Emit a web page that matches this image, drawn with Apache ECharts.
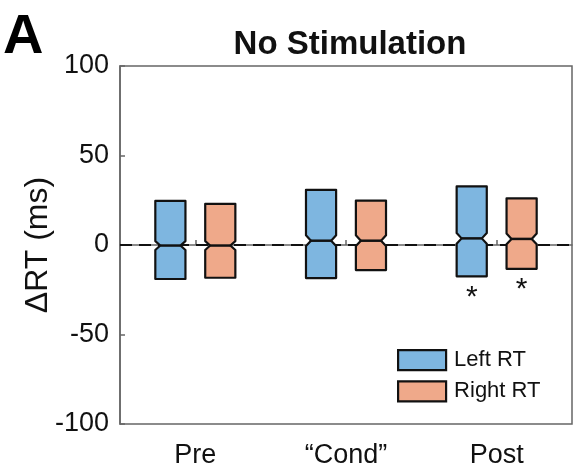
<!DOCTYPE html>
<html>
<head>
<meta charset="utf-8">
<script src="https://cdn.jsdelivr.net/npm/echarts@6/dist/echarts.min.js"></script>
<style>
  html, body { margin: 0; padding: 0; background: #fff; }
  #chart { width: 576px; height: 469px; }
</style>
</head>
<body>
<div id="chart"></div>
<script>
// Sessions on the x axis
const categories = ['Pre', '\u201CCond\u201D', 'Post'];
// Box statistics per session: [lower quartile, median, upper quartile]
const leftQ1 = [-19, -18.5, -17.5];
const leftMedian = [-0.3, 2.4, 3.7];
const leftQ3 = [24.6, 30.8, 32.7];
const rightQ1 = [-18.3, -14, -13.3];
const rightMedian = [-0.3, 2.4, 3.4];
const rightQ3 = [23, 24.8, 26.1];
// Notch half-height around each median (ms)
const leftNotch = [2.5, 3, 3];
const rightNotch = [2.5, 3, 3];
// Significance markers
const leftStar = [false, false, true];
const rightStar = [false, false, true];
const yTicks = [-100, -50, 0, 50, 100];
const zeroLine = 0;

const seriesNames = ['Left RT', 'Right RT'];
const colors = ['#7EB6E0', '#EFA98A'];

function boxData(q1, med, q3, notch, star) {
  return categories.map((c, i) => [i, q1[i], med[i], q3[i], notch[i], star[i] ? 1 : 0]);
}

function makeRender(offset, color) {
  return function (params, api) {
    const idx = api.value(0);
    const q1 = api.value(1), med = api.value(2), q3 = api.value(3), nh = api.value(4);
    const star = api.value(5);
    const band = api.size([1, 0])[0];
    const c = api.coord([idx, med]);
    const cx = c[0] + offset * band;
    const w = 0.1 * band;
    const d = 0.33 * w;
    const yTop = api.coord([idx, q3])[1];
    const yBot = api.coord([idx, q1])[1];
    const yMed = c[1];
    const yNt = api.coord([idx, med + nh])[1];
    const yNb = api.coord([idx, med - nh])[1];
    const pts = [
      [cx - w, yTop], [cx + w, yTop], [cx + w, yNt], [cx + w - d, yMed],
      [cx + w, yNb], [cx + w, yBot], [cx - w, yBot], [cx - w, yNb],
      [cx - w + d, yMed], [cx - w, yNt]
    ];
    const children = [
      { type: 'polygon', shape: { points: pts },
        style: { fill: color, stroke: '#111', lineWidth: 2.2, lineJoin: 'round' } },
      { type: 'line', shape: { x1: cx - w + d, y1: yMed, x2: cx + w - d, y2: yMed },
        style: { stroke: '#111', lineWidth: 2.5 } }
    ];
    if (star) {
      children.push({ type: 'text',
        style: { text: '*', x: cx, y: yBot + 6, textAlign: 'center', textVerticalAlign: 'top',
          font: '30px "Liberation Sans", Arial, sans-serif', fill: '#111' } });
    }
    return { type: 'group', children: children };
  };
}

const chart = echarts.init(document.getElementById('chart'), null, { renderer: 'canvas' });
const fontFam = '"Liberation Sans", Arial, sans-serif';

chart.setOption({
  animation: false,
  backgroundColor: '#fff',
  title: [
    { text: 'No Stimulation', left: 345, top: 23, textAlign: 'center',
      textStyle: { fontFamily: fontFam, fontSize: 33, fontWeight: 'bold', color: '#111' } },
    { text: 'A', left: -2, top: 5,
      textStyle: { fontFamily: fontFam, fontSize: 56, fontWeight: 'bold', color: '#000' } }
  ],
  grid: { left: 120, right: 4, top: 66, bottom: 45, show: true,
    borderColor: '#666', borderWidth: 1.5, backgroundColor: 'transparent' },
  legend: {
    orient: 'vertical', left: 392, top: 344, itemWidth: 48, itemHeight: 20, itemGap: 9,
    icon: 'rect',
    textStyle: { fontFamily: fontFam, fontSize: 22, color: '#111', padding: [0, 0, 0, 3] },
    data: seriesNames.map((n, i) => ({ name: n,
      itemStyle: { color: colors[i], borderColor: '#111', borderWidth: 2.2 } }))
  },
  xAxis: {
    type: 'category', data: categories, boundaryGap: true,
    axisLine: { show: true, lineStyle: { color: '#666', width: 1.5 } },
    axisTick: { show: true, inside: true, alignWithLabel: true, length: 5,
      lineStyle: { color: '#666', width: 1.5 } },
    axisLabel: { fontFamily: fontFam, fontSize: 27, color: '#111', margin: 18 },
    splitLine: { show: false }
  },
  yAxis: {
    type: 'value', min: -100, max: 100, interval: 50,
    name: '\u0394RT (ms)', nameLocation: 'middle', nameGap: 66, nameMoveOverlap: false,
    nameTextStyle: { fontFamily: fontFam, fontSize: 32, color: '#111' },
    axisLine: { show: true, lineStyle: { color: '#666', width: 1.5 } },
    axisTick: { show: true, inside: true, length: 5, lineStyle: { color: '#666', width: 1.5 } },
    axisLabel: { fontFamily: fontFam, fontSize: 27, color: '#111', margin: 11,
      formatter: v => yTicks.includes(v) ? String(v) : '' },
    splitLine: { show: false }
  },
  series: [
    {
      name: 'zero', type: 'line', data: [], z: 1,
      markLine: { silent: true, symbol: 'none', label: { show: false },
        lineStyle: { color: '#111', width: 2, type: [12, 7] },
        data: [{ yAxis: zeroLine }] }
    },
    {
      name: seriesNames[0], type: 'custom', z: 5,
      itemStyle: { color: colors[0] },
      renderItem: makeRender(-0.1656, colors[0]),
      data: boxData(leftQ1, leftMedian, leftQ3, leftNotch, leftStar)
    },
    {
      name: seriesNames[1], type: 'custom', z: 5,
      itemStyle: { color: colors[1] },
      renderItem: makeRender(0.1656, colors[1]),
      data: boxData(rightQ1, rightMedian, rightQ3, rightNotch, rightStar)
    }
  ]
});
</script>
</body>
</html>
